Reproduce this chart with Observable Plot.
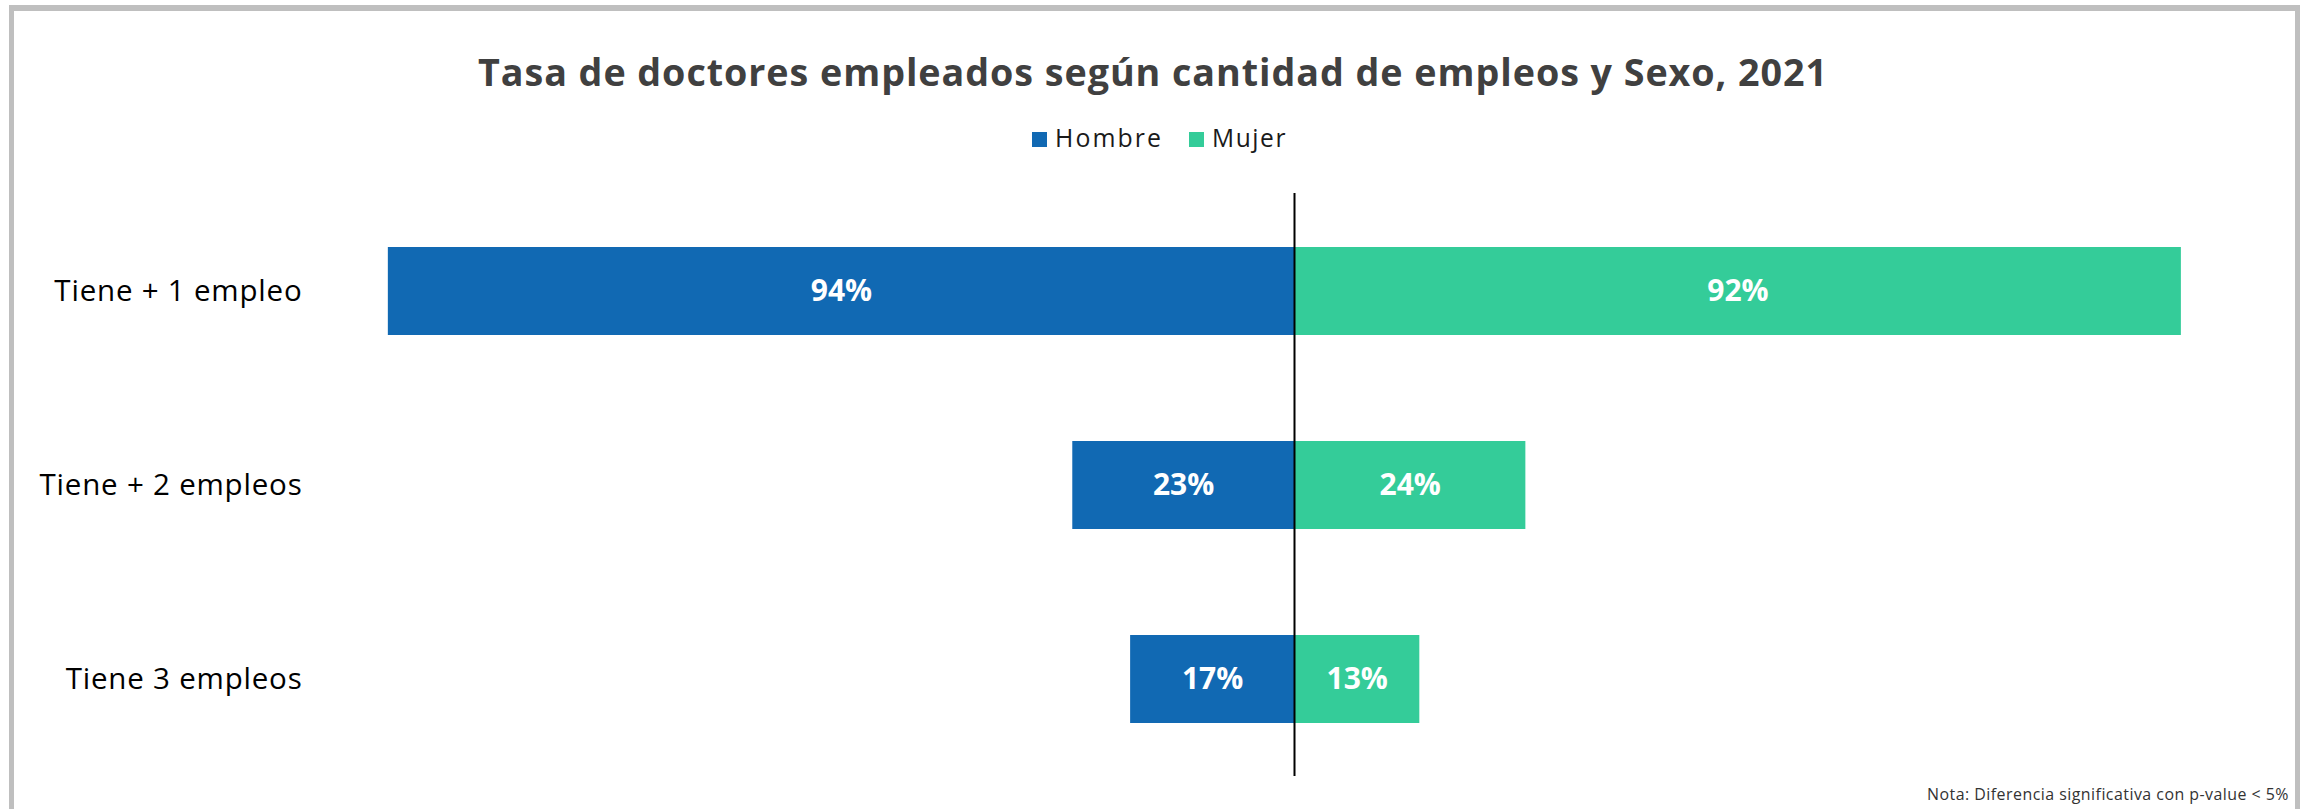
<!DOCTYPE html>
<html>
<head>
<meta charset="utf-8">
<script src="https://cdn.jsdelivr.net/npm/d3@7"></script>
<script src="https://cdn.jsdelivr.net/npm/@observablehq/plot@0.6"></script>
<style>
  html, body { margin: 0; padding: 0; background: #fff; }
  body { width: 2310px; height: 809px; overflow: hidden; position: relative; font-family: "Open Sans", sans-serif; }
  #frame { position: absolute; left: 9px; top: 5px; width: 2291px; height: 900px; box-sizing: border-box; border: 5px solid #bfbfbf; border-top-width: 6px; }
  .abs { position: absolute; white-space: nowrap; margin: 0; }
  #title { left: 478px; font-size: 36px; line-height: 1; font-weight: 700; color: #404040; }
  .leg { font-size: 22px; line-height: 1; color: #1a1a1a; }
  .sw { position: absolute; width: 15px; height: 15px; top: 132px; }
  #note { font-size: 15px; line-height: 1; color: #333; }
  #chart { position: absolute; left: 0; top: 180px; }
</style>
</head>
<body>
<div id="frame"></div>
<div id="title" class="abs">Tasa de doctores empleados según cantidad de empleos y Sexo, 2021</div>
<div id="legend"></div>
<div id="chart"></div>
<div id="note" class="abs">Nota: Diferencia significativa con p-value &lt; 5%</div>
<script>
const categories = ["Tiene + 1 empleo", "Tiene + 2 empleos", "Tiene 3 empleos"];
const series = ["Hombre", "Mujer"];
const hombre = [94, 23, 17];
const mujer = [92, 24, 13];
const colors = ["#1169b3", "#34cc99"];

const rows = categories.flatMap((c, i) => [
  {cat: c, sexo: series[0], v: hombre[i]},
  {cat: c, sexo: series[1], v: mujer[i]}
]);
const signed = d => (d.sexo === series[0] ? -1 : 1) * d.v;

const chart = Plot.plot({
  width: 2310,
  height: 610,
  marginTop: 13,
  marginBottom: 14,
  marginLeft: 330,
  marginRight: 52,
  x: {domain: [-100, 100], axis: null},
  y: {domain: categories, paddingInner: 0.547, paddingOuter: 0.2735, label: null, axis: null},
  color: {domain: series, range: colors},
  style: {fontFamily: "Open Sans, sans-serif", fontSize: "28px", color: "#000", background: "transparent"},
  marks: [
    Plot.barX(rows, {x1: d => 0, x2: signed, y: "cat", fill: "sexo"}),
    Plot.ruleX([0], {stroke: "#000", strokeWidth: 2}),
    Plot.text(rows, {x: d => signed(d) / 2, y: "cat", text: d => d.v + "%", fill: "white", fontWeight: "bold", fontSize: 30}),
    Plot.axisY({tickSize: 0, tickPadding: 28, fontSize: 28, fill: "#000", label: null})
  ]
});
document.getElementById("chart").appendChild(chart);

// enlarge y labels so the longest one spans the same width as in the reference
const yTexts = chart.querySelectorAll('g[aria-label="y-axis tick label"] text');
let maxLen = 0;
yTexts.forEach(t => { maxLen = Math.max(maxLen, t.getComputedTextLength()); });
const yFont = 28 * Math.sqrt(263 / maxLen);
yTexts.forEach(t => { t.style.fontSize = yFont + "px"; });
let maxLen2 = 0;
yTexts.forEach(t => { maxLen2 = Math.max(maxLen2, t.getComputedTextLength()); });
const longest = [...yTexts].reduce((a, b) => (b.textContent.length > a.textContent.length ? b : a));
yTexts.forEach(t => { t.style.letterSpacing = ((263 - maxLen2) / longest.textContent.length) + "px"; });

// legend
const legend = document.getElementById("legend");
const legPos = [{sw: 1032, tx: 1055, w: 108}, {sw: 1189, tx: 1212, w: 75}];
series.forEach((s, i) => {
  const sw = document.createElement("div");
  sw.className = "sw";
  sw.style.left = legPos[i].sw + "px";
  sw.style.background = colors[i];
  legend.appendChild(sw);
  const t = document.createElement("div");
  t.className = "abs leg";
  t.textContent = s;
  t.style.left = legPos[i].tx + "px";
  t.dataset.w = legPos[i].w;
  legend.appendChild(t);
});

function fitWidth(el, target, baseSize) {
  el.style.letterSpacing = "0px";
  el.style.fontSize = baseSize + "px";
  const w0 = el.getBoundingClientRect().width;
  const size = baseSize * Math.sqrt(target / w0);
  el.style.fontSize = size + "px";
  const w = el.getBoundingClientRect().width;
  const n = el.textContent.length;
  el.style.letterSpacing = ((target - w) / n) + "px";
}
function placeBaseline(el, y) {
  el.style.top = "0px";
  const probe = document.createElement("span");
  probe.style.display = "inline-block";
  probe.style.width = "0";
  probe.style.height = "0";
  probe.style.verticalAlign = "baseline";
  el.appendChild(probe);
  const off = probe.getBoundingClientRect().top - el.getBoundingClientRect().top;
  el.removeChild(probe);
  el.style.top = (y - off) + "px";
}

const title = document.getElementById("title");
fitWidth(title, 1350, 36);
placeBaseline(title, 86);

let legSize = 0;
document.querySelectorAll(".leg").forEach(el => {
  fitWidth(el, +el.dataset.w, 22);
  placeBaseline(el, 147);
});

const note = document.getElementById("note");
fitWidth(note, 362, 15);
note.style.left = (2289 - note.getBoundingClientRect().width) + "px";
placeBaseline(note, 800);
</script>
</body>
</html>
